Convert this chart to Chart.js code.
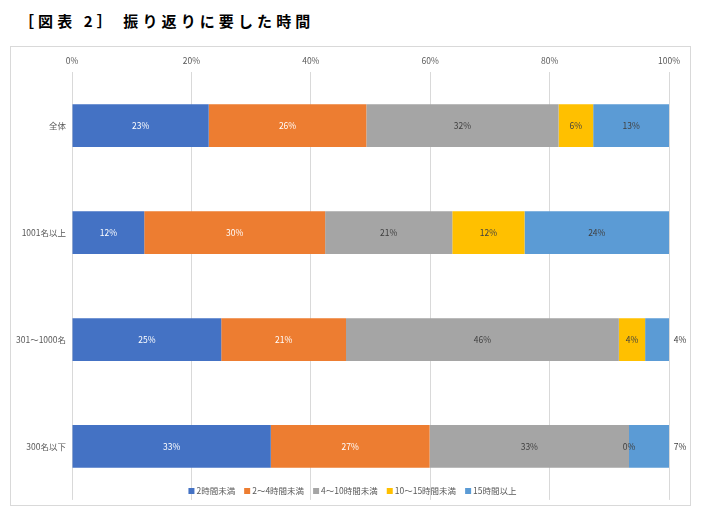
<!DOCTYPE html>
<html>
<head>
<meta charset="utf-8">
<script src="https://cdn.jsdelivr.net/npm/chart.js@4"></script>
<style>
  body { margin: 0; background: #fff; width: 701px; height: 516px; position: relative; overflow: hidden; }
  #title { position: absolute; left: 19px; top: 10px; font-family: "Noto Sans CJK JP", sans-serif; font-size: 15px; font-weight: bold; letter-spacing: 4.1px; color: #000; white-space: nowrap; }
  #box { position: absolute; left: 10px; top: 46px; width: 679px; height: 458px; border: 1px solid #d9d9d9; overflow: hidden; }
</style>
</head>
<body>
<div id="title">［図表 2］ 振り返りに要した時間</div>
<div id="box"><canvas id="chart" width="679" height="464"></canvas></div>
<script>
const categories = ["全体", "1001名以上", "301〜1000名", "300名以下"];
const seriesNames = ["2時間未満", "2〜4時間未満", "4〜10時間未満", "10〜15時間未満", "15時間以上"];
const under2h = [22.9, 12.1, 25.0, 33.3];
const h2to4 = [26.4, 30.3, 20.9, 26.6];
const h4to10 = [32.2, 21.3, 45.7, 33.4];
const h10to15 = [5.8, 12.1, 4.4, 0];
const over15h = [12.7, 24.2, 4.0, 6.7];
const xTicks = [0, 20, 40, 60, 80, 100];

const colors = ["#4472C4", "#ED7D31", "#A5A5A5", "#FFC000", "#5B9BD5"];
const labelColors = ["#ffffff", "#ffffff", "#404040", "#404040", "#404040"];
const values = [under2h, h2to4, h4to10, h10to15, over15h];
const FONT = '"Noto Sans CJK JP", sans-serif';

const barLabels = {
  id: "barLabels",
  afterDatasetsDraw(chart) {
    const ctx = chart.ctx;
    ctx.save();
    ctx.font = "8.5px " + FONT;
    ctx.textAlign = "center";
    ctx.textBaseline = "middle";
    chart.data.datasets.forEach((ds, di) => {
      const meta = chart.getDatasetMeta(di);
      meta.data.forEach((bar, i) => {
        const v = ds.data[i];
        const w = Math.abs(bar.x - bar.base);
        let x = (bar.x + bar.base) / 2;
        let col = labelColors[di];
        if (di == chart.data.datasets.length - 1 && w < 50) {
          x = chart.chartArea.right + 11;
          col = "#404040";
        }
        ctx.fillStyle = col;
        ctx.fillText(Math.round(v) + "%", x, bar.y);
      });
    });
    ctx.restore();
  }
};

const bottomLegend = {
  id: "bottomLegend",
  afterDraw(chart) {
    const ctx = chart.ctx;
    ctx.save();
    ctx.font = "8.5px " + FONT;
    ctx.textBaseline = "middle";
    const box = 6, gap = 2, space = 9;
    const widths = chart.data.datasets.map(ds => ctx.measureText(ds.label).width);
    let total = 0;
    widths.forEach(w => total += box + gap + w);
    total += space * (widths.length - 1);
    let x = 679 / 2 - total / 2 + 2;
    const y = 444;
    chart.data.datasets.forEach((ds, i) => {
      ctx.fillStyle = ds.backgroundColor;
      ctx.fillRect(x, y - box / 2, box, box);
      ctx.fillStyle = "#595959";
      ctx.fillText(ds.label, x + box + gap, y);
      x += box + gap + widths[i] + space;
    });
    ctx.restore();
  }
};

new Chart(document.getElementById("chart"), {
  type: "bar",
  data: {
    labels: categories,
    datasets: seriesNames.map((name, i) => ({
      label: name,
      data: values[i],
      backgroundColor: colors[i],
      borderWidth: 0,
      categoryPercentage: 1.0,
      barPercentage: 0.4
    }))
  },
  options: {
    indexAxis: "y",
    responsive: false,
    animation: false,
    layout: { padding: { top: 3, right: 21, bottom: 0, left: 0 } },
    scales: {
      x: {
        position: "top",
        stacked: true,
        min: 0,
        max: 100,
        afterBuildTicks: (s) => { s.ticks = xTicks.map(v => ({ value: v })); },
        ticks: {
          padding: 6,
          color: "#595959",
          font: { size: 8.5, family: FONT },
          callback: (v) => v + "%"
        },
        grid: { color: "#d9d9d9", drawTicks: false },
        border: { display: false }
      },
      y: {
        stacked: true,
        afterFit: (s) => { s.width = 61; },
        ticks: {
          padding: 6,
          color: "#595959",
          font: { size: 8.5, family: FONT }
        },
        grid: { display: false, drawTicks: false },
        border: { display: false }
      }
    },
    plugins: {
      legend: { display: false },
      tooltip: { enabled: false }
    }
  },
  plugins: [barLabels, bottomLegend]
});
</script>
</body>
</html>
